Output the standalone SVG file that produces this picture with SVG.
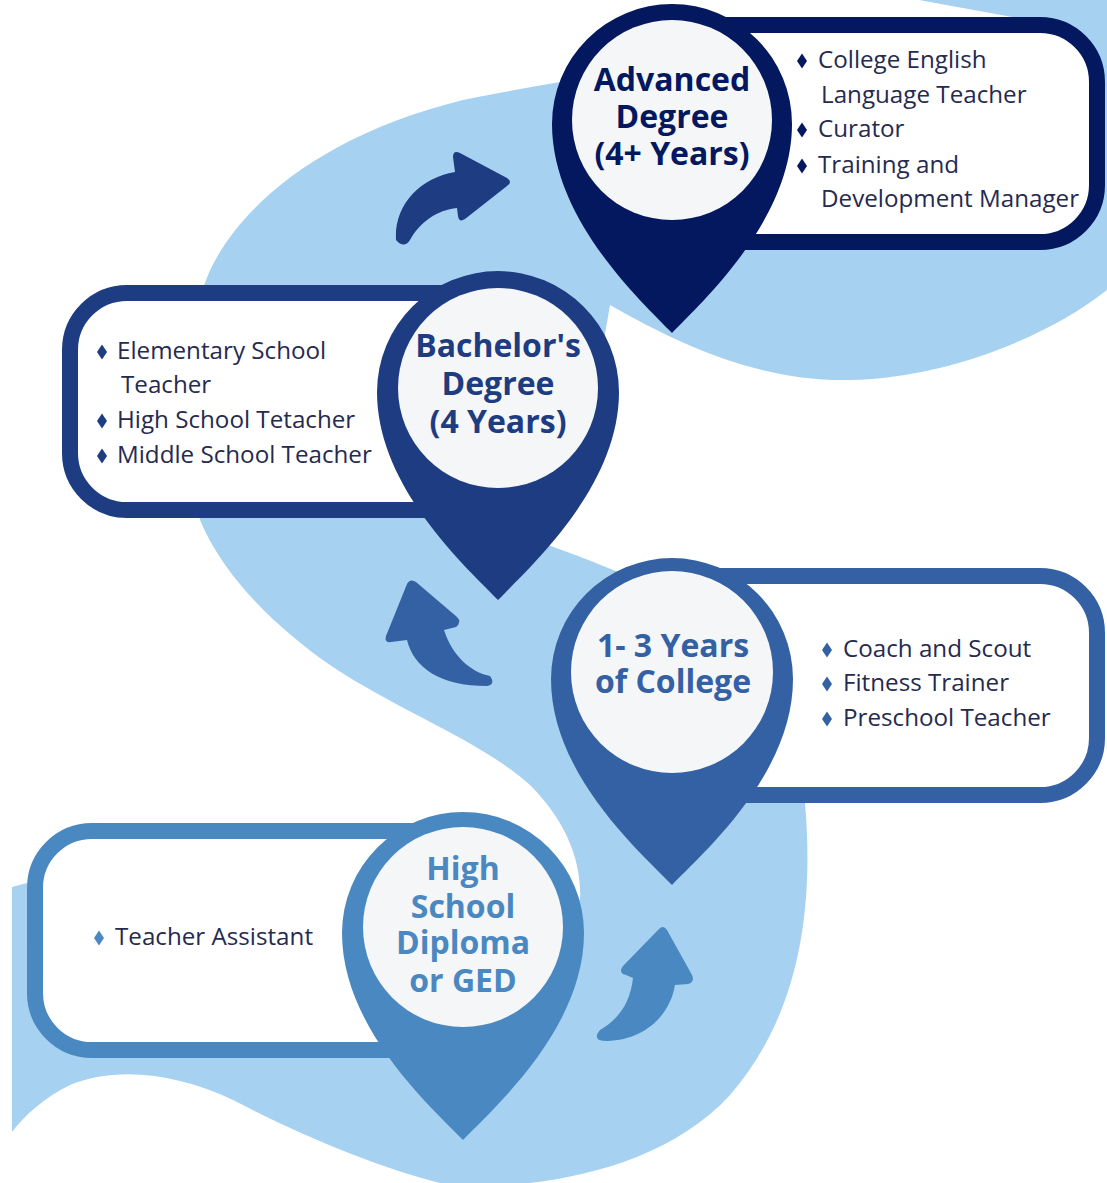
<svg xmlns="http://www.w3.org/2000/svg" width="1107" height="1183" viewBox="0 0 1107 1183">
<style>
.bg{fill:#a7d1f1}
.box{fill:#ffffff;stroke-width:16}
.inner{fill:#f5f6f8}
.title{font-family:'Open Sans','Liberation Sans',sans-serif;font-weight:700;font-size:32px;text-anchor:middle}
.item{font-family:'Open Sans','Liberation Sans',sans-serif;font-size:24.2px;fill:#262a4f}
.c1{fill:#04185f}.s1{stroke:#04185f}
.c2{fill:#1e3c82}.s2{stroke:#1e3c82}
.c3{fill:#3461a3}.s3{stroke:#3461a3}
.c4{fill:#4a88c1}.s4{stroke:#4a88c1}
</style>
<defs>
<polygon id="dia" points="0,-7.5 5,0 0,7.5 -5,0"/>
</defs>
<rect width="1107" height="1183" fill="#ffffff"/>
<g id="background">
<path class="bg" d="M200,300 C215,230 300,140 463,100 C560,80 700,60 800,45 L1012,17 L919,0 L1107,0 L1107,290 C1050,335 950,378 850,380 C760,382 680,345 610,305 L590,420 L548,545 C570,553 590,560 630,577 L700,620 L790,720 L805,803 C815,920 795,1020 730,1095 C680,1150 600,1175 530,1183 L440,1183 C380,1168 300,1135 233,1100 C180,1075 120,1065 70,1085 C45,1097 25,1115 12,1132 L12,887 L27,883 L300,870 L500,900 L580,900 C582,860 565,820 530,785 C480,740 400,712 330,665 C280,630 225,580 200,520 L185,400 Z"/>
</g>
<g id="connectors">
<path id="arrow-hs-college" class="c4" d="M633,978 C630,1005 617,1020 600,1030 Q591,1041 607,1041 C645,1040 670,1015 675,985 L688,984 Q695,982 692,975 L667,930 Q663,924 658,930 L623,966 Q618,973 626,975 Z"/>
<path id="arrow-college-bachelor" class="c3" d="M407,640 C414,668 440,686 487,686 Q496,684 490,676 C470,672 452,655 444,630 L456,627 Q462,622 457,617 L416,582 Q410,578 407,584 L386,636 Q384,643 391,642 Z"/>
<path id="arrow-bachelor-advanced" class="c2" d="M396,240 C394,205 420,178 455,172 L453,157 Q453,150 460,153 L507,178 Q513,182 507,186 L465,219 Q459,223 458,216 L457,208 C437,210 420,222 410,240 Q404,249 396,240 Z"/>
</g>
<g id="node-advanced">
<rect class="box s1" x="660" y="25" width="437" height="217" rx="57"/>
<path class="c1" d="M672,333 C640,300 552,219 552,124 A120 120 0 0 1 792,124 C792,219 704,300 672,333 Z"/>
<circle class="inner" cx="672" cy="120" r="100"/>
<text class="title c1" x="672" y="91">Advanced<tspan x="672" dy="37">Degree</tspan><tspan x="672" dy="37">(4+ Years)</tspan></text>
<use href="#dia" x="802" y="61" class="c1"/>
<use href="#dia" x="802" y="130" class="c1"/>
<use href="#dia" x="802" y="166" class="c1"/>
<text class="item" x="818" y="68">College English</text>
<text class="item" x="821" y="103">Language Teacher</text>
<text class="item" x="818" y="137">Curator</text>
<text class="item" x="818" y="173">Training and</text>
<text class="item" x="821" y="207">Development Manager</text>
</g>
<g id="node-bachelor">
<rect class="box s2" x="70" y="293" width="470" height="217" rx="57"/>
<path class="c2" d="M498,600 C466,567 377,487 377,392 A121 121 0 0 1 619,392 C619,487 530,567 498,600 Z"/>
<circle class="inner" cx="498" cy="388" r="100"/>
<text class="title c2" x="498" y="357">Bachelor's<tspan x="498" dy="38">Degree</tspan><tspan x="498" dy="38">(4 Years)</tspan></text>
<use href="#dia" x="102" y="352" class="c2"/>
<use href="#dia" x="102" y="421" class="c2"/>
<use href="#dia" x="102" y="456" class="c2"/>
<text class="item" x="117" y="359">Elementary School</text>
<text class="item" x="121" y="393">Teacher</text>
<text class="item" x="117" y="428">High School Tetacher</text>
<text class="item" x="117" y="463">Middle School Teacher</text>
</g>
<g id="node-college">
<rect class="box s3" x="640" y="576" width="457" height="219" rx="57"/>
<path class="c3" d="M672,885 C640,852 551,774 551,679 A121 121 0 0 1 793,679 C793,774 704,852 672,885 Z"/>
<circle class="inner" cx="672" cy="672" r="101"/>
<text class="title c3" x="673" y="657">1- 3 Years<tspan x="673" dy="36">of College</tspan></text>
<use href="#dia" x="827" y="650" class="c3"/>
<use href="#dia" x="827" y="684" class="c3"/>
<use href="#dia" x="827" y="719" class="c3"/>
<text class="item" x="843" y="657">Coach and Scout</text>
<text class="item" x="843" y="691">Fitness Trainer</text>
<text class="item" x="843" y="726">Preschool Teacher</text>
</g>
<g id="node-highschool">
<rect class="box s4" x="35" y="831" width="465" height="219" rx="57"/>
<path class="c4" d="M463,1140 C431,1107 342,1028 342,933 A121 121 0 0 1 584,933 C584,1028 495,1107 463,1140 Z"/>
<circle class="inner" cx="463" cy="927" r="100"/>
<text class="title c4" x="463" y="880">High<tspan x="463" dy="38">School</tspan><tspan x="463" dy="36">Diploma</tspan><tspan x="463" dy="38">or GED</tspan></text>
<use href="#dia" x="99" y="938" class="c4"/>
<text class="item" x="115" y="945">Teacher Assistant</text>
</g>
</svg>
